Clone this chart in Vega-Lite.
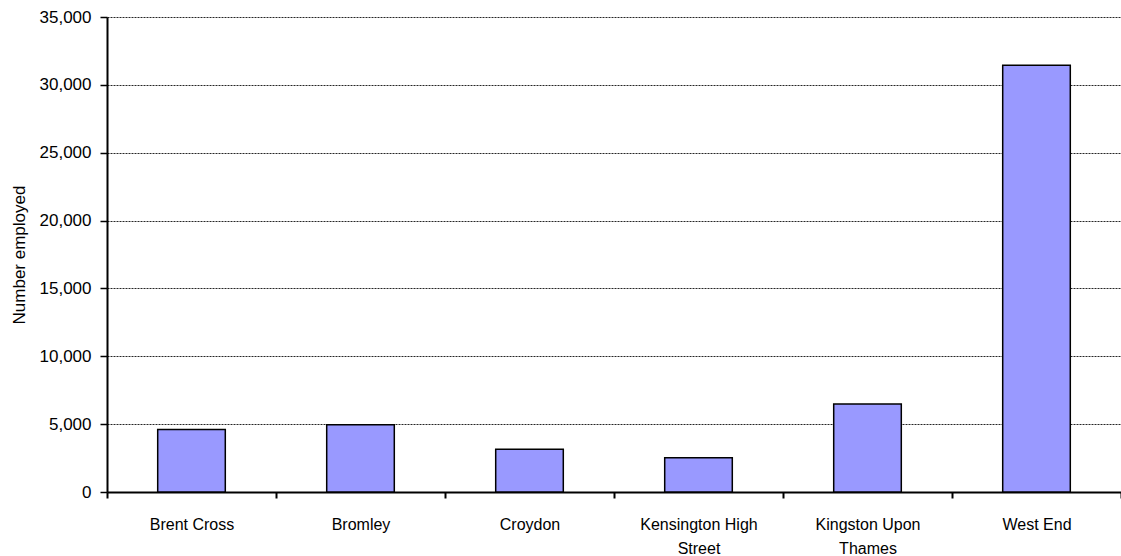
{
  "$schema": "https://vega.github.io/schema/vega-lite/v6.json",
  "width": 1014,
  "height": 475,
  "autosize": "none",
  "padding": {"left": 107, "top": 17, "right": 0, "bottom": 64},
  "background": "white",
  "config": {
    "view": {"stroke": null},
    "font": "Liberation Sans",
    "axis": {
      "labelFont": "Liberation Sans",
      "titleFont": "Liberation Sans",
      "labelColor": "#000",
      "titleColor": "#000",
      "domainColor": "#000",
      "tickColor": "#000"
    }
  },
  "data": {
    "values": [
      {"centre": "Brent Cross", "employed": 4600},
      {"centre": "Bromley", "employed": 4950},
      {"centre": "Croydon", "employed": 3150},
      {"centre": "Kensington High Street", "employed": 2520},
      {"centre": "Kingston Upon Thames", "employed": 6480},
      {"centre": "West End", "employed": 31450}
    ]
  },
  "mark": {"type": "bar", "color": "#9999FF", "stroke": "#000", "strokeWidth": 1.5, "width": {"band": 0.4}},
  "encoding": {
    "x": {
      "field": "centre",
      "type": "nominal",
      "sort": null,
      "scale": {"paddingInner": 0, "paddingOuter": 0},
      "axis": {
        "title": null,
        "labelAngle": 0,
        "labelFontSize": 16,
        "labelPadding": 26,
        "labelLineHeight": 24,
        "labelBaseline": "middle",
        "tickBand": "extent",
        "tickSize": 6,
        "tickWidth": 2,
        "domainWidth": 2,
        "labelExpr": "datum.value == 'Kensington High Street' ? ['Kensington High', 'Street'] : datum.value == 'Kingston Upon Thames' ? ['Kingston Upon', 'Thames'] : datum.value"
      }
    },
    "y": {
      "field": "employed",
      "type": "quantitative",
      "scale": {"domain": [0, 35000], "nice": false},
      "axis": {
        "title": "Number employed",
        "titleFontSize": 17,
        "titleFontWeight": "normal",
        "titlePadding": 11,
        "values": [0, 5000, 10000, 15000, 20000, 25000, 30000, 35000],
        "format": ",d",
        "labelFontSize": 17,
        "labelPadding": 9,
        "tickSize": 7,
        "tickWidth": 1.5,
        "domainWidth": 2,
        "grid": true,
        "gridColor": "#000",
        "gridWidth": 1,
        "gridDash": [2, 1],
        "gridOpacity": 0.85
      }
    }
  }
}
